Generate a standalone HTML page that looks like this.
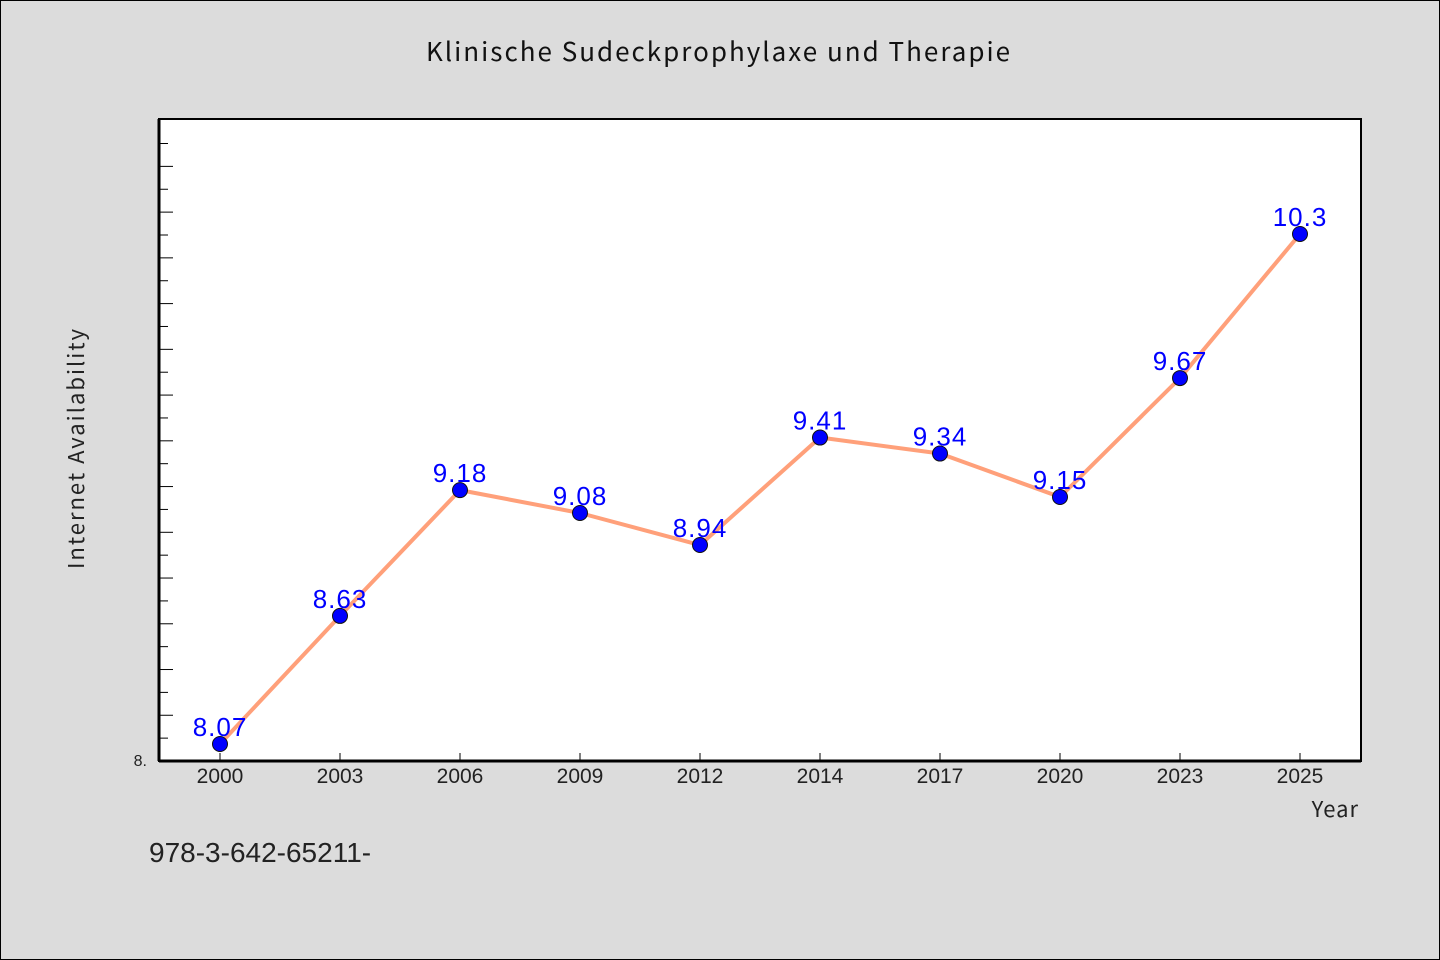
<!DOCTYPE html>
<html><head><meta charset="utf-8"><style>
body{margin:0;background:#dcdcdc;}
svg{display:block;font-family:"Liberation Sans","Noto Sans CJK SC",sans-serif;}
</style></head><body>
<svg width="1440" height="960">
<rect x="0.5" y="0.5" width="1439" height="959" fill="#dcdcdc" stroke="#000"/>
<text x="719" y="61" text-anchor="middle" font-size="26" letter-spacing="2" fill="#111" font-family="'Noto Sans CJK SC',monospace">Klinische Sudeckprophylaxe und Therapie</text>
<rect x="159" y="119" width="1202" height="642" fill="#fff" stroke="#000" stroke-width="2"/>
<line x1="159" y1="761" x2="1361" y2="761" stroke="#000" stroke-width="3"/>
<line x1="159" y1="119" x2="159" y2="761" stroke="#000" stroke-width="3"/>
<g id="ticks"></g>
<g id="xlabels"></g>
<polyline id="line" fill="none" stroke="#ffa07a" stroke-width="4" stroke-linejoin="round"/>
<g id="pts"></g>
<text x="147" y="766" text-anchor="end" font-size="16" fill="#222">8.</text>
<text x="1359" y="817" text-anchor="end" font-size="22" letter-spacing="1" fill="#222" font-family="'Noto Sans CJK SC',monospace">Year</text>
<text x="84" y="448" text-anchor="middle" font-size="22" letter-spacing="2" fill="#222" font-family="'Noto Sans CJK SC',monospace" transform="rotate(-90 84 448)">Internet Availability</text>
<text x="149" y="862" font-size="28" fill="#222">978-3-642-65211-</text>
</svg>
<script>
const categories=["2000","2003","2006","2009","2012","2014","2017","2020","2023","2025"];
const values=[8.07,8.63,9.18,9.08,8.94,9.41,9.34,9.15,9.67,10.3];
const labels=["8.07","8.63","9.18","9.08","8.94","9.41","9.34","9.15","9.67","10.3"];
const NS="http://www.w3.org/2000/svg";
const x0=220,dx=120;
function xs(i){return x0+i*(1200/categories.length);}
function ys(v){return 760-(v-8)*228.7;}
const tk=document.getElementById('ticks');
for(let k=1;k<=27;k++){
  const y=761-k*22.87; if(y<125)break;
  const l=document.createElementNS(NS,'line');
  
  
  l.setAttribute('x1',159);l.setAttribute('x2',159+(k%2?9:14));
  l.setAttribute('y1',y);l.setAttribute('y2',y);l.setAttribute('stroke','#000');
  tk.appendChild(l);
}
const xl=document.getElementById('xlabels');
const pts=document.getElementById('pts');
let p=[];
categories.forEach((c,i)=>{
  const x=xs(i),y=ys(values[i]);p.push(x+','+y);
  const t=document.createElementNS(NS,'line');
  
  
  t.setAttribute('x1',x);t.setAttribute('x2',x);t.setAttribute('y1',753);t.setAttribute('y2',761);t.setAttribute('stroke','#000');
  xl.appendChild(t);
  const tx=document.createElementNS(NS,'text');
  
  
  tx.setAttribute('x',x);tx.setAttribute('y',783);tx.setAttribute('text-anchor','middle');tx.setAttribute('font-size','21');tx.setAttribute('fill','#222');
  tx.textContent=c;xl.appendChild(tx);
});
document.getElementById('line').setAttribute('points',p.join(' '));
categories.forEach((c,i)=>{
  const x=xs(i),y=ys(values[i]);
  const ci=document.createElementNS(NS,'circle');
  
  
  ci.setAttribute('cx',x);ci.setAttribute('cy',y);ci.setAttribute('r',7.5);ci.setAttribute('fill','#0000ff');ci.setAttribute('stroke','#111');
  pts.appendChild(ci);
  const tx=document.createElementNS(NS,'text');
  
  
  tx.setAttribute('x',x);tx.setAttribute('y',y-8);tx.setAttribute('text-anchor','middle');tx.setAttribute('font-size','26');tx.setAttribute('fill','#0000ff');tx.setAttribute('letter-spacing','1');
  tx.textContent=labels[i];pts.appendChild(tx);
});
</script>
</body></html>
